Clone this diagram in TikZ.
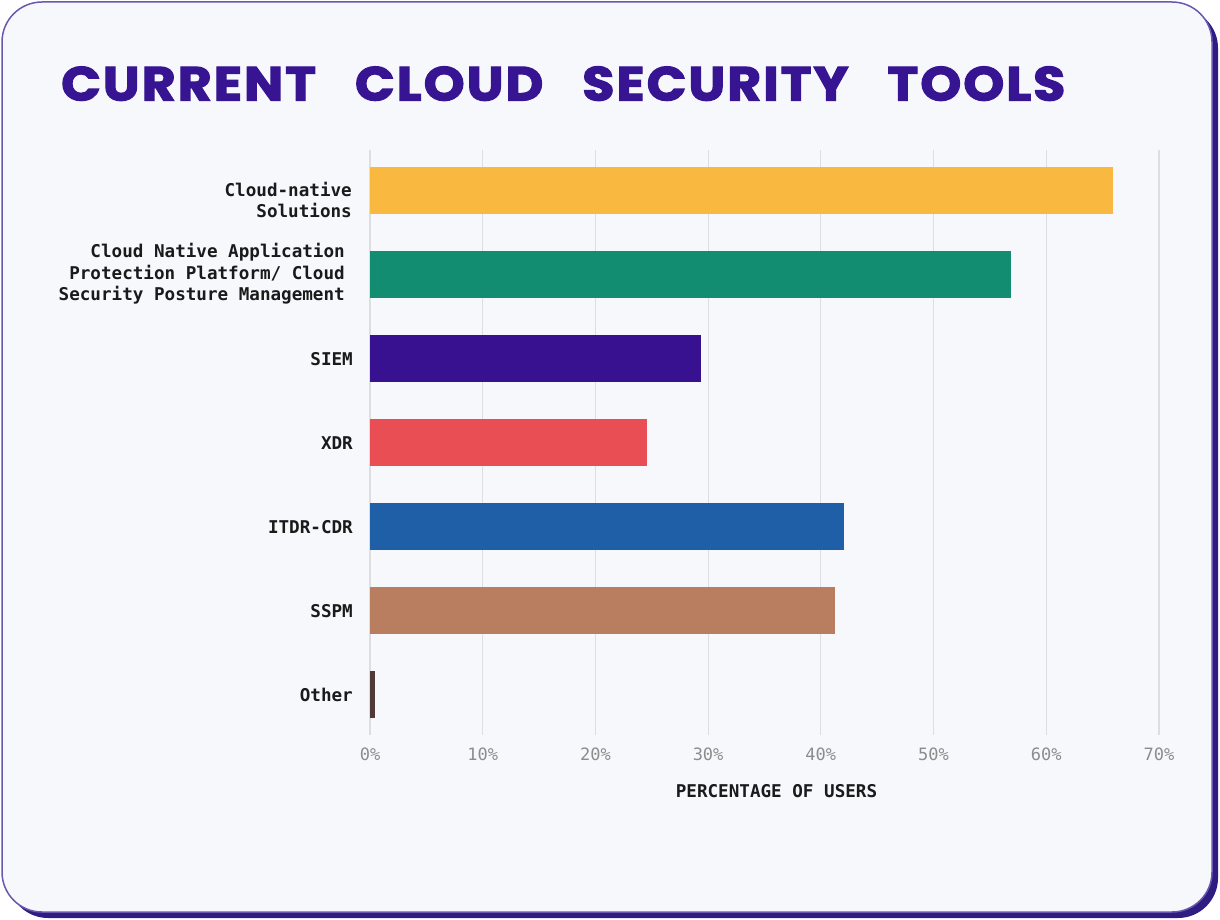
\documentclass[tikz,border=0pt]{standalone}
\usepackage{fontspec}
\newfontfamily\titlefont{Poppins}[LetterSpace=4, FakeBold=2.5]
\newfontfamily\labelfont{DejaVu Sans Mono}
\definecolor{bgc}{HTML}{F7F8FC}
\definecolor{borderc}{HTML}{6A58AE}
\definecolor{shadowc}{HTML}{2F1C82}
\definecolor{titlec}{HTML}{371491}
\definecolor{gridc}{HTML}{DEDEE2}
\definecolor{tickc}{HTML}{8C8C8C}
\definecolor{textc}{HTML}{1A1A1A}
\definecolor{c1}{HTML}{F9B840}
\definecolor{c2}{HTML}{128D71}
\definecolor{c3}{HTML}{371190}
\definecolor{c4}{HTML}{E84E53}
\definecolor{c5}{HTML}{1E5FA8}
\definecolor{c6}{HTML}{B97E60}
\definecolor{c7}{HTML}{4F3A37}
\tikzset{
  catlabel/.style={anchor=east, align=right, text=textc, inner sep=0pt,
    font=\labelfont\bfseries\fontsize{17.6}{21.5}\selectfont},
  ticklabel/.style={anchor=center, text=tickc, inner sep=0pt,
    font=\labelfont\fontsize{17}{20}\selectfont},
  gridline/.style={draw=gridc, line width=1.2pt},
  barbox/.style={inner sep=0pt, outer sep=0pt, minimum height=47pt, anchor=north west}
}
\begin{document}
\begin{tikzpicture}[x=1pt,y=-1pt]
\useasboundingbox (0,0) rectangle (1220,920);
% frame
\path[fill=shadowc, rounded corners=40pt] (8,8) rectangle (1218,918);
\path[fill=bgc, draw=borderc, line width=1.5pt, rounded corners=40pt] (2,2) rectangle (1212,912);
% title
\node[anchor=south west, inner sep=0pt, text=titlec] (title) at (61,101)
  {\resizebox{1004pt}{34pt}{\titlefont\bfseries CURRENT\hspace{0.75em}CLOUD\hspace{0.75em}SECURITY\hspace{0.75em}TOOLS}};
% grid and ticks
\foreach \i in {0,...,7}{
  \pgfmathsetmacro{\gx}{370+112.7*\i}
  \coordinate (gt\i) at (\gx,150);
  \coordinate (gb\i) at (\gx,735);
  \draw[gridline] (gt\i) -- (gb\i);
  \ifnum\i=0
    \node[ticklabel] (tick\i) at (\gx,754) {0\%};
  \else
    \node[ticklabel] (tick\i) at (\gx,754) {\i0\%};
  \fi
}
% bars
\foreach \i/\v/\c in {0/65.9/c1, 1/56.9/c2, 2/29.4/c3, 3/24.6/c4, 4/42.1/c5, 5/41.3/c6, 6/0.4/c7}{
  \pgfmathsetmacro{\by}{167+84*\i}
  \pgfmathsetmacro{\bw}{11.27*\v}
  \node[barbox, fill=\c, minimum width=\bw pt] (bar\i) at (370,\by) {};
}
% category labels
\node[catlabel] (l0) at (352,200) {Cloud-native\\Solutions};
\node[catlabel] (l1) at (345,274) {Cloud Native Application\\Protection Platform/ Cloud\\Security Posture Management};
\node[catlabel] (l2) at (353,359) {SIEM};
\node[catlabel] (l3) at (353,443) {XDR};
\node[catlabel] (l4) at (353,527) {ITDR-CDR};
\node[catlabel] (l5) at (353,611) {SSPM};
\node[catlabel] (l6) at (353,695) {Other};
% axis title
\node[anchor=center, inner sep=0pt, text=textc, font=\labelfont\bfseries\fontsize{17.6}{20}\selectfont] (xtitle) at (776.5,791) {PERCENTAGE OF USERS};
\end{tikzpicture}
\end{document}
